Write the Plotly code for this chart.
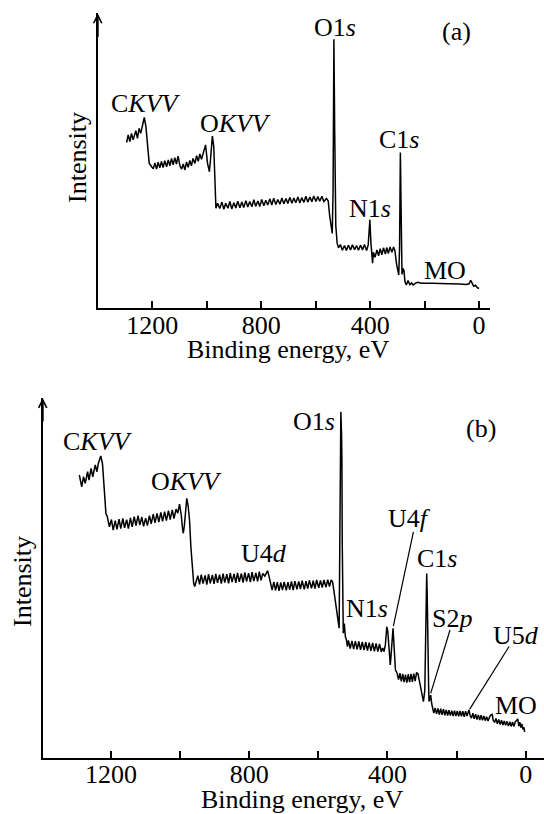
import plotly.graph_objects as go

# ---------------- data: panel (a) ----------------
be_a = [1294, 1288, 1282, 1276, 1270, 1260, 1254, 1248, 1242, 1235, 1229, 1223, 1217, 1211, 1202,
        1196, 1190, 1184, 1178, 1172, 1166, 1160, 1154, 1147, 1141, 1135, 1129, 1123, 1117, 1111,
        1105, 1098, 1092, 1086, 1080, 1074, 1068, 1062, 1056, 1050, 1043, 1037, 1031, 1025, 1019,
        1013, 1004, 997, 990, 985, 979, 974, 969, 966, 960,
        952, 944, 937, 930, 922, 915, 908, 900, 893, 886, 878, 871, 864, 856, 849, 842, 834, 827,
        820, 812, 805, 798, 790, 783, 776, 768, 761, 754, 746, 739, 731, 724, 717, 709, 702, 695,
        687, 680, 673, 665, 658, 651, 643, 636, 629, 621, 614, 607, 599, 592, 585, 577, 570, 560,
        554, 548, 541, 539, 536, 533, 530, 526, 521, 516,
        509, 502, 494, 487, 480, 472, 465, 457, 450, 443, 435, 428, 421, 413, 407, 403, 401, 397,
        394, 391, 388, 382, 375, 369, 363, 357, 351, 344, 339, 333, 327, 320, 314, 309, 303, 297,
        295, 292, 289, 285, 283, 279, 276, 272, 267, 261, 254, 248, 242, 232, 224, 212, 193, 169,
        144, 120, 95, 71, 46, 37, 31, 24, 20, 13, 7, 0]
int_a = [56.2, 58.8, 56.5, 59.3, 57.1, 60.2, 57.6, 61.0, 59.3, 62.1, 64.7, 61.6, 54.8, 49.2, 48.0,
         47.3, 49.3, 47.2, 49.5, 47.6, 49.8, 47.7, 50.0, 48.0, 50.3, 48.3, 50.8, 48.6, 51.1, 48.9,
         51.6, 48.3, 47.2, 48.9, 46.9, 49.6, 47.8, 50.1, 48.3, 50.8, 49.1, 51.7, 49.8, 52.3, 50.5,
         52.5, 55.4, 49.2, 46.3, 51.4, 58.4, 54.8, 41.2, 33.9, 35.6,
         33.8, 36.0, 33.6, 35.6, 33.9, 36.2, 33.7, 35.8, 34.0, 36.3, 34.1, 36.0, 34.2, 36.5, 34.3,
         36.2, 34.4, 36.8, 34.6, 36.4, 34.5, 36.9, 34.8, 36.6, 35.0, 37.1, 35.0, 37.3, 35.2, 36.9,
         35.3, 37.4, 35.4, 37.2, 35.5, 37.6, 35.6, 37.4, 35.8, 37.7, 35.7, 37.5, 35.9, 38.0, 36.0,
         37.7, 36.1, 38.1, 36.2, 37.9, 36.3, 38.0, 36.2, 37.2,
         36.4, 31.0, 26.5, 25.4, 40.0, 91.2, 60.0, 28.0, 22.0, 20.5,
         21.6, 19.7, 21.3, 19.6, 21.4, 19.8, 21.5, 19.9, 21.3, 19.7, 21.4, 19.8, 21.6, 19.6, 21.5,
         27.0, 30.0, 22.0, 17.0, 15.3, 19.0, 17.3, 19.8, 17.8, 20.2, 18.1, 20.5, 18.4, 20.6, 18.6,
         20.8, 19.0, 20.8, 19.5, 15.0, 12.0, 11.3, 20.0, 52.8, 25.0, 11.5, 13.5, 12.8, 9.0, 7.9,
         9.4, 8.0, 8.6, 7.9, 8.6, 8.8, 8.5, 8.6, 8.5, 8.4, 8.4, 8.3, 8.2, 8.1, 8.3, 9.5, 8.2, 7.5,
         7.8, 7.0, 6.7]

# ---------------- data: panel (b) ----------------
be_b = [1292, 1285, 1280, 1275, 1268, 1264, 1258, 1253, 1246, 1241, 1237, 1230, 1225, 1220, 1215,
        1211, 1205,
        1199, 1194, 1188, 1183, 1177, 1172, 1166, 1161, 1155, 1150, 1144, 1139, 1133, 1128, 1122,
        1117, 1111, 1106, 1100, 1095, 1089, 1084, 1078, 1073, 1067, 1062, 1056, 1051, 1045, 1040,
        1034, 1029, 1023, 1018, 1012, 1007, 1002, 997, 993, 991, 988, 985, 981, 977, 973, 969,
        965, 961, 958, 954,
        949, 944, 939, 934, 928, 923, 918, 913, 907, 902, 897, 892, 886, 881, 876, 871, 865, 860,
        855, 850, 844, 839, 834, 829, 823, 818, 813, 808, 802, 797, 792, 787, 781, 776, 771, 766,
        761, 755, 751, 747, 743, 739, 734, 729, 724, 719, 714, 709, 704, 699, 693, 688, 683, 678,
        673, 668, 662, 657, 652, 647, 641, 636, 631, 626, 620, 615, 610, 605, 599, 594, 589, 584,
        578, 573, 568, 563, 559, 556, 553, 549, 545, 542, 540, 538, 536, 535, 533, 532, 531, 530,
        528, 525, 522, 519, 516,
        513, 508, 503, 498, 493, 488, 483, 478, 473, 468, 463, 458, 453, 448, 443, 438, 433, 428,
        423, 418, 414, 410, 406, 402, 399, 397, 394, 392, 390, 388, 384, 381, 379, 377, 372,
        368, 364, 360, 356, 352, 348, 344, 340, 336, 332, 328, 324, 320, 316, 312, 308, 304, 300,
        296, 292, 290, 288, 286.5, 285, 284, 282.5, 281, 279.8, 277, 275, 272, 270,
        266, 262, 258, 254, 250, 246, 242, 238, 234, 230, 226, 222, 218, 214, 210, 206, 202, 198,
        194, 190, 186, 182, 178, 174, 170, 166, 164, 161, 157, 153, 149, 145, 141, 137, 133, 129,
        125, 121, 117, 113, 109, 105, 101, 97, 94, 90, 86, 82, 78, 74, 70, 66, 62, 58, 54, 50, 46,
        42, 38, 34, 30, 26, 23, 20, 17, 14, 11, 8, 5, 3]
int_b = [78.6, 75.3, 78.1, 76.3, 79.5, 77.2, 80.4, 78.1, 81.4, 79.5, 81.8, 83.9, 81.8, 74.4, 67.9,
         67.0, 64.2,
         66.2, 63.3, 65.9, 63.5, 66.3, 63.7, 66.5, 63.9, 66.2, 63.7, 66.7, 64.2, 67.0, 64.5, 67.3,
         64.7, 66.9, 64.3, 66.6, 64.5, 67.3, 65.0, 67.7, 65.3, 67.9, 65.5, 68.2, 65.7, 68.4, 65.9,
         68.7, 66.2, 68.9, 66.5, 69.1, 68.0, 70.5, 67.5, 63.5, 62.4, 64.5, 68.5, 72.1, 70.0, 66.0,
         58.5, 52.2, 48.5, 47.6, 49.0,
         50.6, 48.2, 50.9, 48.4, 50.7, 48.1, 51.0, 48.5, 50.8, 48.3, 51.1, 48.6, 50.9, 48.4, 51.2,
         48.7, 51.0, 48.5, 51.3, 48.8, 51.1, 48.6, 51.4, 48.9, 51.2, 48.7, 51.5, 49.0, 51.3, 48.8,
         51.6, 49.1, 51.4, 49.0, 51.7, 49.3, 51.2, 50.5, 51.5, 52.0, 50.5, 48.5, 46.6, 48.9, 46.5,
         48.8, 46.4, 48.7, 46.6, 48.9, 46.5, 48.8, 46.7, 49.0, 46.6, 49.1, 46.8, 49.0, 46.9, 49.2,
         46.8, 49.1, 47.0, 49.3, 47.1, 49.2, 47.0, 49.4, 47.2, 49.3, 47.3, 49.4, 47.4, 49.5, 47.6,
         49.4, 48.9, 47.0, 44.8, 41.5, 38.3, 36.5, 36.0, 60.0, 90.0, 96.2, 90.0, 83.7, 60.0, 40.1,
         34.6, 37.3, 33.7, 32.8, 30.9,
         32.6, 30.3, 32.5, 30.2, 32.4, 30.1, 32.3, 30.0, 32.2, 29.9, 32.1, 29.8, 32.0, 29.7, 31.9,
         29.6, 31.8, 29.5, 31.6, 29.4, 30.5, 29.5, 31.5, 36.4, 35.0, 32.7, 28.0, 25.8, 28.0, 31.8,
         36.0, 30.9, 27.0, 24.4, 23.4,
         21.7, 23.5, 21.2, 23.3, 21.0, 23.1, 20.9, 23.2, 21.0, 23.3, 21.1, 23.4, 21.3, 23.6, 23.4,
         21.5, 19.7, 17.5, 15.6, 18.8, 30.0, 45.0, 51.2, 45.0, 35.0, 26.2, 20.0, 15.6, 16.5, 17.4,
         15.0, 13.7,
         12.4, 13.8, 12.2, 13.7, 12.0, 13.6, 11.9, 13.5, 11.8, 13.3, 11.7, 13.2, 11.7, 13.1, 11.6,
         13.1, 11.6, 13.0, 11.5, 13.0, 11.5, 12.9, 11.4, 12.9, 11.6, 12.8, 13.3, 11.7, 11.0, 12.4,
         10.8, 12.1, 10.6, 11.9, 10.5, 11.8, 10.4, 11.6, 10.3, 11.4, 10.2, 11.2, 11.9, 12.0, 10.4,
         9.8, 10.9, 9.4, 10.6, 9.2, 10.4, 9.1, 10.2, 9.0, 10.1, 8.8, 10.0, 8.7, 9.9, 8.7, 10.0, 10.4,
         10.8, 8.8, 9.9, 8.4, 9.4, 7.9, 8.4, 7.2]

assert len(be_a) == len(int_a) and len(be_b) == len(int_b)

tick_vals = [1200, 1000, 800, 600, 400, 200, 0]
tick_text = ["1200", "", "800", "", "400", "", "0"]

labels_a = ["O1<i>s</i>", "(a)", "C<i>KVV</i>", "O<i>KVV</i>", "C1<i>s</i>", "N1<i>s</i>", "MO"]
labels_b = ["O1<i>s</i>", "(b)", "C<i>KVV</i>", "O<i>KVV</i>", "U4<i>d</i>", "U4<i>f</i>",
            "C1<i>s</i>", "N1<i>s</i>", "S2<i>p</i>", "U5<i>d</i>", "MO"]
# leader lines in panel (b): (label end eV, I) -> (peak eV, I)
leaders_b = [((325, 62.8), (383, 36.6)),
             ((219, 35.5), (275, 17.9)),
             ((48, 30.9), (162, 13.5))]

# ---------------- layout constants (pixels in a 544x814 page) ----------------
W, H = 544, 814
FONT = "Liberation Serif"
FS = 26


def px(x):
    return x / W


def py(y):
    return 1 - y / H


pos_a = [(334.5, 27.5), (456.7, 31.7), (145.8, 104), (235.8, 123.3), (399, 140), (370, 208),
         (445, 270)]
pos_b = [(314, 421.7), (480.7, 428.3), (98.3, 441.7), (186.7, 481.7), (264, 553.3),
         (409, 518.3), (437.3, 558.3), (367.3, 608.3), (452.3, 618.3), (515.7, 635),
         (515.7, 705)]

fig = go.Figure()
fig.add_trace(go.Scatter(x=be_a, y=int_a, mode="lines", xaxis="x", yaxis="y",
                         line=dict(color="black", width=1.5), hoverinfo="skip"))
fig.add_trace(go.Scatter(x=be_b, y=int_b, mode="lines", xaxis="x2", yaxis="y2",
                         line=dict(color="black", width=1.5), hoverinfo="skip"))

xcommon = dict(showline=True, linecolor="black", linewidth=2, showgrid=False, zeroline=False,
               ticks="inside", ticklen=7, tickwidth=1.5, tickcolor="black",
               tickvals=tick_vals, ticktext=tick_text, ticklabelstandoff=-8,
               tickfont=dict(family=FONT, size=FS, color="black"))
ycommon = dict(showline=True, linecolor="black", linewidth=2, showgrid=False, zeroline=False,
               showticklabels=False, ticks="", range=[0, 100])

fig.update_layout(
    width=W, height=H, margin=dict(l=0, r=0, t=0, b=0),
    paper_bgcolor="white", plot_bgcolor="white", showlegend=False,
    xaxis=dict(domain=[px(97.7), px(490)], range=[1400, -40], anchor="y", **xcommon),
    yaxis=dict(domain=[py(308.3), py(13.3)], anchor="x", **ycommon),
    xaxis2=dict(domain=[px(42.7), 1.0], range=[1398, -53], anchor="y2", **xcommon),
    yaxis2=dict(domain=[py(757.7), py(398)], anchor="x2", **ycommon),
)

ann = []
for t, (x, y) in zip(labels_a, pos_a):
    ann.append(dict(text=t, x=px(x), y=py(y), xref="paper", yref="paper", showarrow=False,
                    xanchor="center", yanchor="middle",
                    font=dict(family=FONT, size=FS, color="black")))
for t, (x, y) in zip(labels_b, pos_b):
    ann.append(dict(text=t, x=px(x), y=py(y), xref="paper", yref="paper", showarrow=False,
                    xanchor="center", yanchor="middle",
                    font=dict(family=FONT, size=FS, color="black")))
# axis titles
for (x, y) in [(288.3, 350), (302, 799.4)]:
    ann.append(dict(text="Binding energy, eV", x=px(x), y=py(y), xref="paper", yref="paper",
                    showarrow=False, xanchor="center", yanchor="middle",
                    font=dict(family=FONT, size=FS, color="black")))
for (x, y) in [(77, 158), (22, 582)]:
    ann.append(dict(text="Intensity", x=px(x), y=py(y), xref="paper", yref="paper",
                    showarrow=False, xanchor="center", yanchor="middle", textangle=-90,
                    font=dict(family=FONT, size=FS, color="black")))
# y-axis arrowheads
for xr, yr in [("x domain", "y domain"), ("x2 domain", "y2 domain")]:
    ann.append(dict(text="", x=0, y=1, xref=xr, yref=yr, showarrow=True, ax=0, ay=25,
                    arrowhead=5, arrowsize=0.8, arrowwidth=2, arrowcolor="black"))
fig.update_layout(annotations=ann)

for (x0, y0), (x1, y1) in leaders_b:
    fig.add_shape(type="line", x0=x0, y0=y0, x1=x1, y1=y1, xref="x2", yref="y2",
                  line=dict(color="black", width=1.2))

fig.write_html("out.html", config={"displayModeBar": False},
               post_script="document.body.style.margin='0';document.body.style.overflow='hidden';")
